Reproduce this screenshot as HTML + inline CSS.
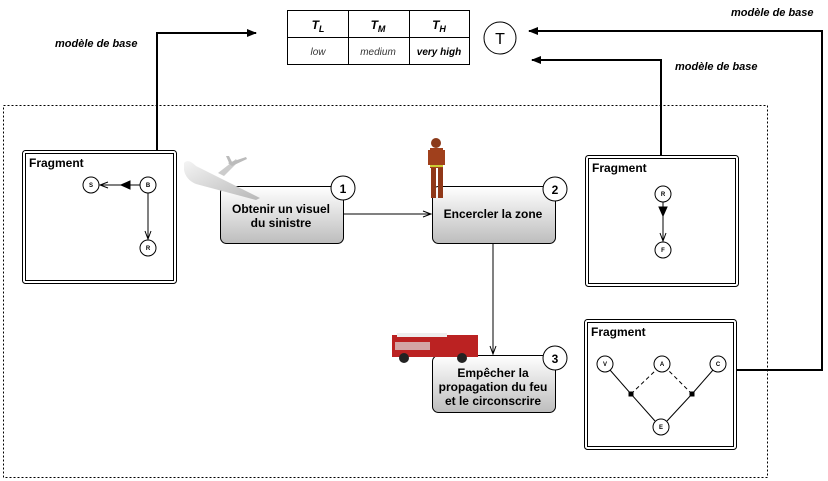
<!DOCTYPE html>
<html><head><meta charset="utf-8"><style>
body{margin:0;background:#fff}
svg{display:block;font-family:"Liberation Sans",sans-serif}
</style></head><body>
<svg width="828" height="481" viewBox="0 0 828 481" xmlns="http://www.w3.org/2000/svg">
<defs>
<linearGradient id="g" x1="0" y1="0" x2="0" y2="1"><stop offset="0" stop-color="#ffffff"/><stop offset="1" stop-color="#bdbdbd"/></linearGradient>
<linearGradient id="pl" x1="0" y1="0" x2="1" y2="1"><stop offset="0" stop-color="#f4f4f4"/><stop offset="1" stop-color="#b8b8b8"/></linearGradient>
<marker id="ah" markerWidth="10" markerHeight="10" refX="9" refY="5" orient="auto" markerUnits="userSpaceOnUse"><path d="M0,1 L10,5 L0,9 z" fill="#000"/></marker>
<marker id="op" markerWidth="10" markerHeight="10" refX="9" refY="5" orient="auto" markerUnits="userSpaceOnUse"><path d="M1,2 L9,5 L1,8" fill="none" stroke="#000" stroke-width="1"/></marker>
</defs>
<rect x="3.5" y="105.5" width="764" height="372" fill="none" stroke="#000" stroke-dasharray="2,2"/>
<!-- table -->
<g stroke="#000" fill="none"><rect x="287.5" y="10.5" width="182" height="54"/><line x1="287" y1="37.5" x2="469" y2="37.5"/><line x1="348.5" y1="10" x2="348.5" y2="64"/><line x1="409.5" y1="10" x2="409.5" y2="64"/></g>
<g font-style="italic" font-weight="bold" font-size="12" text-anchor="middle"><text x="318" y="29">T<tspan font-size="9" dy="3">L</tspan></text><text x="378" y="29">T<tspan font-size="9" dy="3">M</tspan></text><text x="439" y="29">T<tspan font-size="9" dy="3">H</tspan></text></g>
<g font-style="italic" font-size="10" text-anchor="middle"><text x="318" y="55" fill="#333">low</text><text x="378" y="55" fill="#333">medium</text><text x="439" y="55" font-weight="bold">very high</text></g>
<circle cx="500" cy="38" r="16" fill="#fff" stroke="#000"/><text x="500" y="44" font-size="16" text-anchor="middle">T</text>
<!-- arrows -->
<g fill="none" stroke="#000" stroke-width="2"><polyline points="157,150 157,33 256,33" marker-end="url(#ah)"/><polyline points="736,370 822,370 822,31 529,31" marker-end="url(#ah)"/><polyline points="661,155 661,60 532,60" marker-end="url(#ah)"/></g>
<g font-style="italic" font-weight="bold" font-size="11"><text x="55" y="47">modèle de base</text><text x="731" y="16">modèle de base</text><text x="675" y="70">modèle de base</text></g>
<!-- fragments -->
<g fill="#fff" stroke="#000"><rect x="22.5" y="150.5" width="154" height="133" rx="3"/><rect x="25.5" y="153.5" width="148" height="127" fill="none"/>
<rect x="585.5" y="155.5" width="153" height="131" rx="3"/><rect x="588.5" y="158.5" width="147" height="125" fill="none"/>
<rect x="584.5" y="319.5" width="152" height="130" rx="3"/><rect x="587.5" y="322.5" width="146" height="124" fill="none"/></g>
<g font-weight="bold" font-size="12"><text x="29" y="167">Fragment</text><text x="592" y="172">Fragment</text><text x="591" y="336">Fragment</text></g>
<g stroke="#000" fill="none"><line x1="140" y1="185" x2="100" y2="185" marker-end="url(#op)"/><path d="M121,185 L130,181 L130,189z" fill="#000"/><line x1="148" y1="193" x2="148" y2="239" marker-end="url(#op)"/>
<line x1="663" y1="202" x2="663" y2="241" marker-end="url(#op)"/><path d="M663,216 L659,207 L667,207z" fill="#000"/>
<line x1="610" y1="370" x2="631" y2="394"/><line x1="631" y1="394" x2="655" y2="421"/><line x1="713" y1="370" x2="692" y2="394"/><line x1="692" y1="394" x2="667" y2="421"/>
<line x1="631" y1="394" x2="656" y2="370" stroke-dasharray="4,3"/><line x1="692" y1="394" x2="668" y2="370" stroke-dasharray="4,3"/></g>
<rect x="628.5" y="391.5" width="5" height="5" fill="#000"/><rect x="689.5" y="391.5" width="5" height="5" fill="#000"/>
<g fill="#fff" stroke="#000"><circle cx="91" cy="185" r="8"/><circle cx="148" cy="185" r="8"/><circle cx="148" cy="248" r="8"/><circle cx="663" cy="194" r="8"/><circle cx="663" cy="250" r="8"/><circle cx="605" cy="364" r="8"/><circle cx="662" cy="364" r="8"/><circle cx="718" cy="364" r="8"/><circle cx="661" cy="427" r="8"/></g>
<g font-size="6" font-weight="bold" text-anchor="middle"><text x="91" y="187">S</text><text x="148" y="187">B</text><text x="148" y="250">R</text><text x="663" y="196">R</text><text x="663" y="252">F</text><text x="605" y="366">V</text><text x="662" y="366">A</text><text x="718" y="366">C</text><text x="661" y="429">E</text></g>
<!-- flow arrows -->
<g stroke="#000" fill="none"><line x1="343" y1="214" x2="431" y2="214" marker-end="url(#op)"/><line x1="493" y1="243" x2="493" y2="354" marker-end="url(#op)"/></g>
<!-- tasks -->
<g stroke="#000" fill="url(#g)"><rect x="220.5" y="186.5" width="123" height="57" rx="6"/><rect x="432.5" y="186.5" width="123" height="57" rx="6"/><rect x="432.5" y="355.5" width="123" height="57" rx="6"/></g>
<!-- plane -->
<g><path d="M184,163 Q188,158 196,166 L260,198 L256,200 L196,184 Q186,180 184,170z" fill="url(#pl)"/><path d="M218,173 L236,159 L238,162 L224,176z" fill="#ccc"/><path d="M228,163 L246,157 L247,159 L232,166z" fill="#bbb"/><path d="M230,165 L226,156 L229,156 L233,164z" fill="#bbb"/></g>
<g fill="#fff" stroke="#000"><circle cx="343" cy="188" r="12"/><circle cx="555" cy="189" r="12"/><circle cx="555" cy="358" r="12"/></g>
<g font-weight="bold" font-size="12" text-anchor="middle"><text x="343" y="193">1</text><text x="555" y="194">2</text><text x="555" y="363">3</text>
<text x="281" y="213">Obtenir un visuel</text><text x="281" y="227">du sinistre</text><text x="493" y="218">Encercler la zone</text>
<text x="493" y="377">Empêcher la</text><text x="493" y="391">propagation du feu</text><text x="493" y="405">et le circonscrire</text></g>
<!-- firefighter -->
<g><circle cx="436" cy="143" r="5" fill="#8b3a1a"/><rect x="430" y="148" width="13" height="20" fill="#a0401c"/><rect x="428" y="150" width="3" height="15" fill="#a0401c"/><rect x="442" y="150" width="3" height="15" fill="#a0401c"/><rect x="431" y="168" width="5" height="30" fill="#903818"/><rect x="438" y="168" width="5" height="30" fill="#903818"/><rect x="430" y="165" width="13" height="2" fill="#cc3"/></g>
<!-- truck -->
<g><rect x="392" y="335" width="86" height="22" fill="#b22"/><rect x="397" y="333" width="50" height="4" fill="#eee"/><rect x="395" y="342" width="35" height="8" fill="#ddd" opacity=".7"/><circle cx="404" cy="358" r="5" fill="#222"/><circle cx="462" cy="358" r="5" fill="#222"/></g>
</svg>
</body></html>
